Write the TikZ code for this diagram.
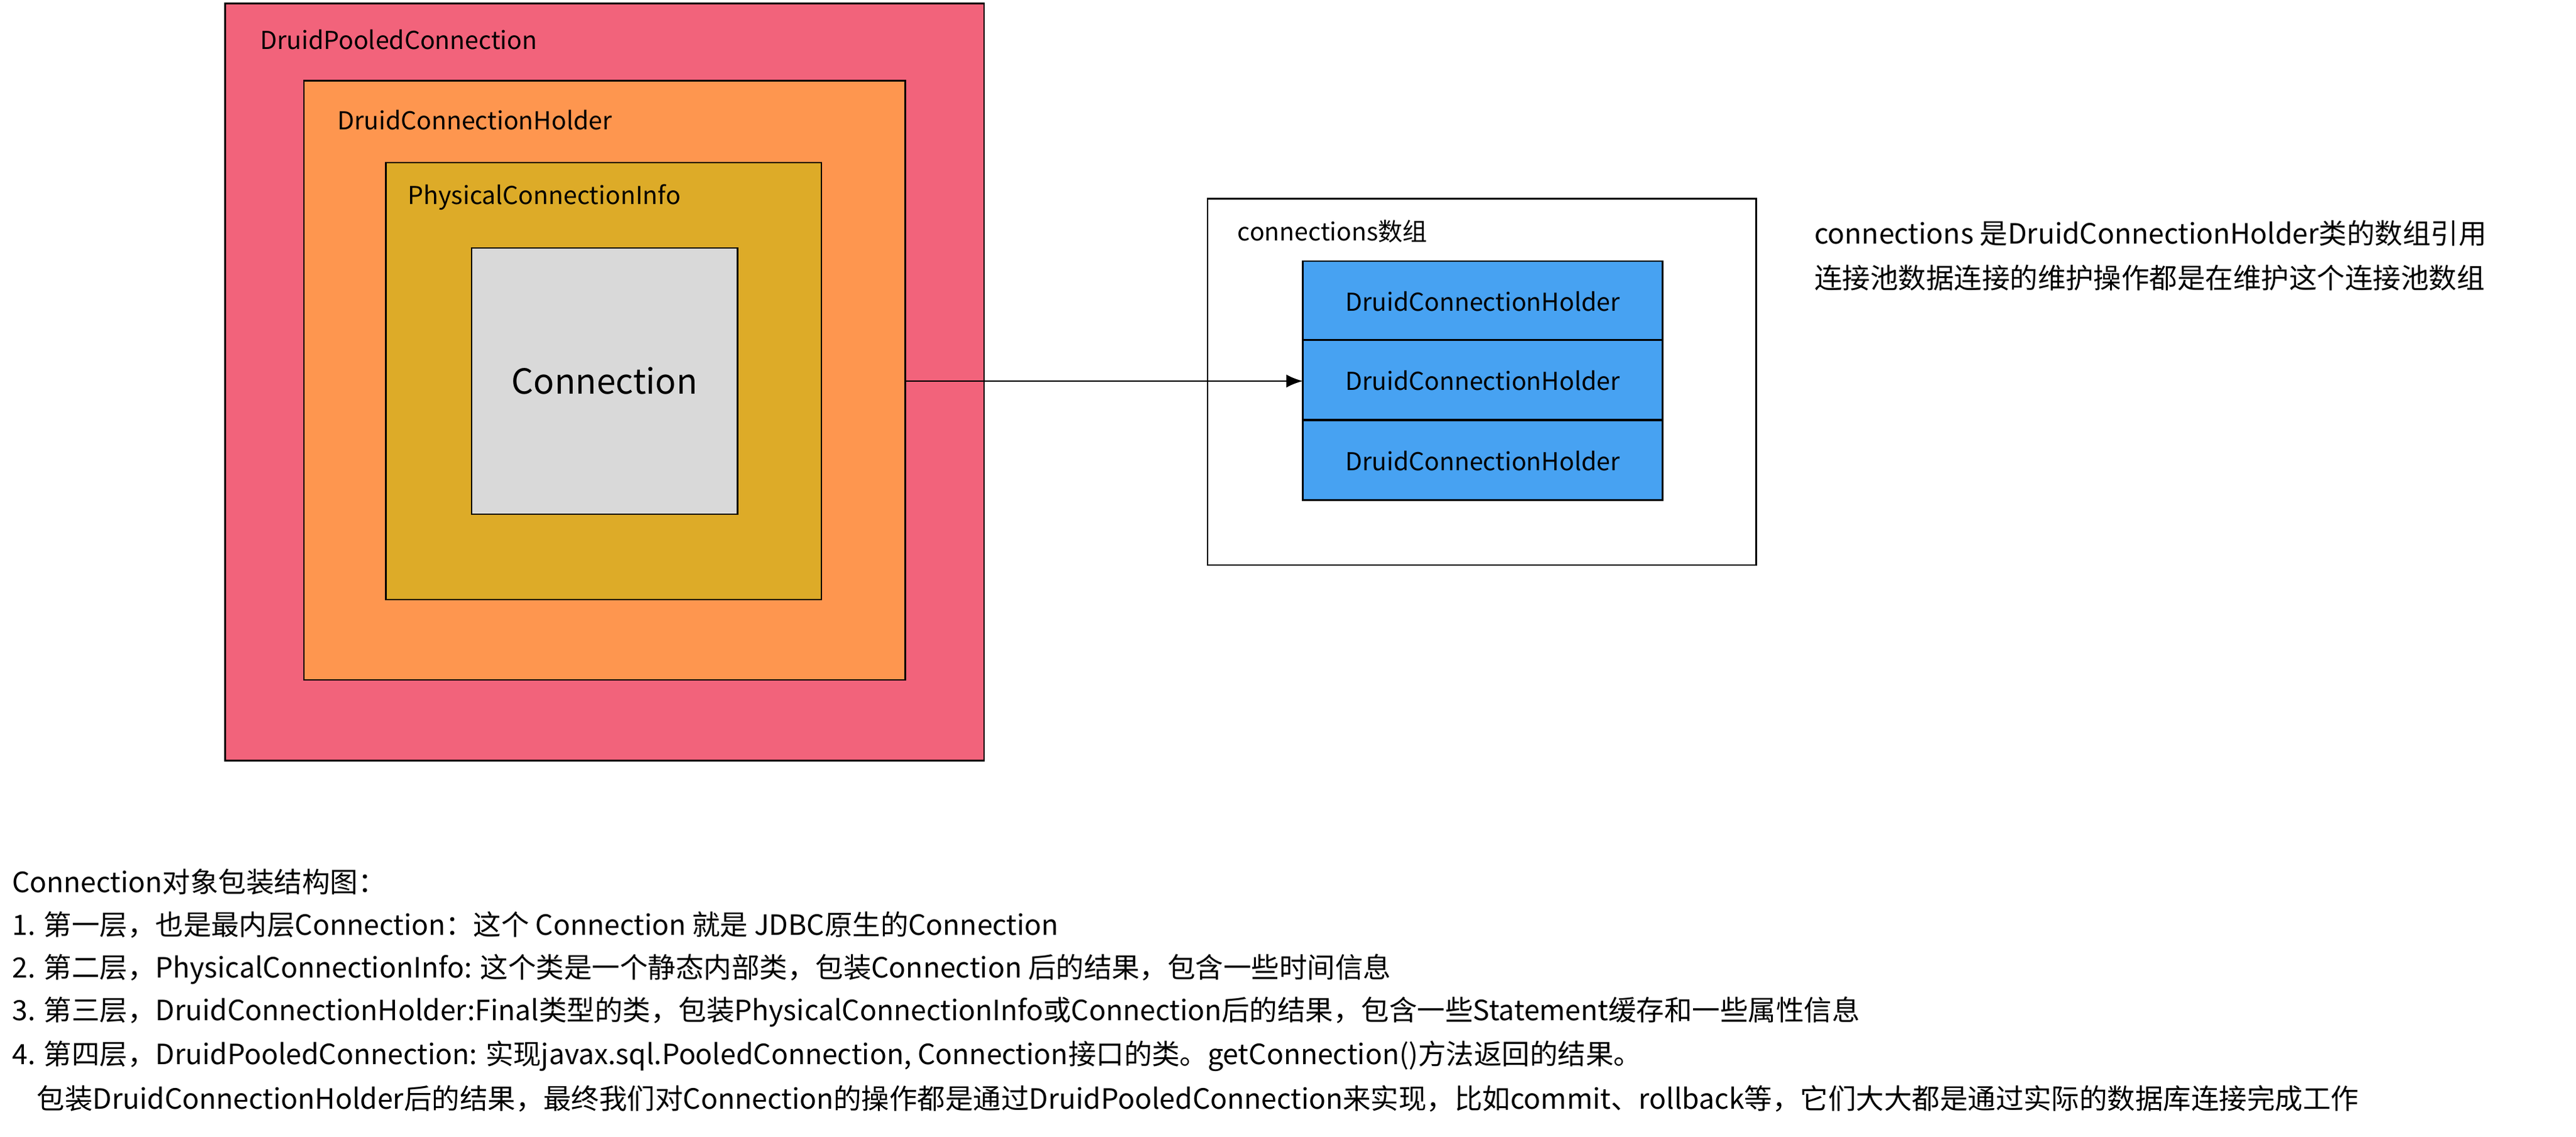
\documentclass[tikz,border=0pt]{standalone}
\usepackage{fontspec}
\setmainfont{Noto Sans CJK SC}
\usetikzlibrary{arrows.meta}
\definecolor{cred}{HTML}{F2637B}
\definecolor{corange}{HTML}{FE964F}
\definecolor{cgold}{HTML}{DDAB28}
\definecolor{cgray}{HTML}{D9D9D9}
\definecolor{cblue}{HTML}{47A2F2}
\tikzset{box/.style={draw=black,line width=0.5pt},
lbl/.style={anchor=west,inner sep=0pt,font=\fontsize{7.5}{9}\selectfont},
txt/.style={anchor=west,inner sep=0pt,font=\fontsize{8.5}{10}\selectfont}}
\begin{document}
\begin{tikzpicture}[x=0.5pt,y=-0.5pt]
\useasboundingbox[fill=white] (0,0) rectangle (1568,692);
\draw[box,fill=cred] (137,2) rectangle (599,463);
\draw[box,fill=corange] (185,49) rectangle (551,414);
\draw[box,fill=cgold] (235,99) rectangle (500,365);
\draw[box,fill=cgray] (287,151) rectangle (449,313);
\node[lbl] (l1) at (158,24) {DruidPooledConnection};
\node[lbl] (l2) at (205,73) {DruidConnectionHolder};
\node[lbl] (l3) at (248,120) {PhysicalConnectionInfo};
\node[inner sep=0pt,font=\fontsize{10.5}{12}\selectfont] (conn) at (368,232) {Connection};
\coordinate (src) at (551,232);
\draw[box,fill=white] (735,121) rectangle (1069,344);
\node[lbl] (l4) at (753,141) {connections数组};
\foreach \i/\y in {1/159,2/207,3/256}{
  \draw[box,fill=cblue] (793,\y) rectangle (1012,\y+48.5);
  \node[inner sep=0pt,font=\fontsize{7.5}{9}\selectfont] (h\i) at (902.5,\y+24.5) {DruidConnectionHolder};
}
\coordinate (dst) at (793,232);
\draw[line width=0.5pt,-{Latex[length=5pt,width=4pt]}] (src) -- (dst);
\node[txt] (r1) at (1104,142) {connections 是DruidConnectionHolder类的数组引用};
\node[txt] (r2) at (1104,169) {连接池数据连接的维护操作都是在维护这个连接池数组};
\node[txt] (b0) at (7,537) {Connection对象包装结构图：};
\node[txt] (b1) at (7,563) {1. 第一层，也是最内层Connection：这个 Connection 就是 JDBC原生的Connection};
\node[txt] (b2) at (7,590) {2. 第二层，PhysicalConnectionInfo: 这个类是一个静态内部类，包装Connection 后的结果，包含一些时间信息};
\node[txt] (b3) at (7,616) {3. 第三层，DruidConnectionHolder:Final类型的类，包装PhysicalConnectionInfo或Connection后的结果，包含一些Statement缓存和一些属性信息};
\node[txt] (b4) at (7,643) {4. 第四层，DruidPooledConnection: 实现javax.sql.PooledConnection, Connection接口的类。getConnection()方法返回的结果。};
\node[txt] (b5) at (22,669) {包装DruidConnectionHolder后的结果，最终我们对Connection的操作都是通过DruidPooledConnection来实现，比如commit、rollback等，它们大大都是通过实际的数据库连接完成工作};
\end{tikzpicture}
\end{document}
